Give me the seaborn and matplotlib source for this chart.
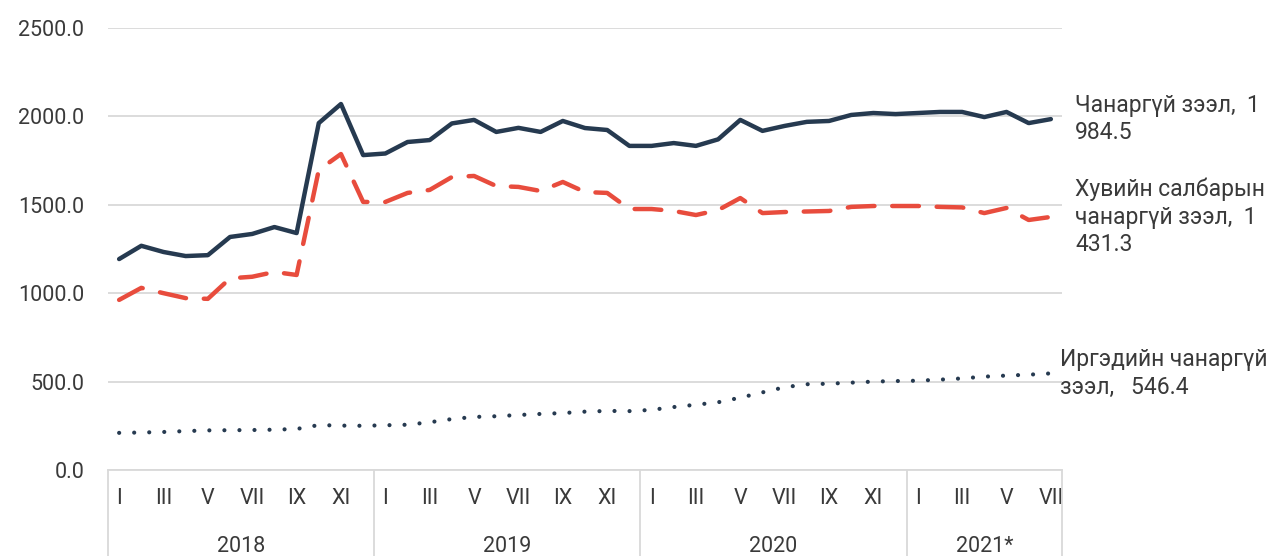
import numpy as np
import pandas as pd
import seaborn as sns
import matplotlib.pyplot as plt
import matplotlib.transforms as mtransforms

# monthly data, 2018-I .. 2021-VII
years = ['2018', '2019', '2020', '2021*']
months_per_year = [12, 12, 12, 7]
roman = ['I', 'II', 'III', 'IV', 'V', 'VI', 'VII', 'VIII', 'IX', 'X', 'XI', 'XII']

total_npl = [1193, 1268, 1233, 1210, 1215, 1318, 1335, 1374, 1340, 1962, 2070, 1781,
             1790, 1855, 1866, 1960, 1980, 1912, 1935, 1912, 1974, 1934, 1923, 1833,
             1833, 1849, 1833, 1870, 1980, 1918, 1946, 1969, 1974, 2008, 2019, 2013,
             2019, 2025, 2025, 1996, 2025, 1962, 1984.5]
private_npl = [962, 1030, 1000, 972, 968, 1084, 1093, 1120, 1103, 1697, 1787, 1516,
               1516, 1567, 1584, 1657, 1663, 1606, 1601, 1578, 1629, 1572, 1567, 1476,
               1476, 1465, 1442, 1470, 1538, 1453, 1459, 1462, 1465, 1488, 1493, 1493,
               1493, 1488, 1485, 1453, 1482, 1414, 1431.3]
household_npl = [210, 212, 215, 220, 224, 225, 226, 228, 232, 254, 251, 250,
                 253, 256, 270, 288, 300, 304, 311, 317, 322, 330, 334, 333,
                 340, 356, 369, 383, 409, 439, 468, 485, 488, 494, 500, 503,
                 505, 511, 518, 528, 534, 539, 546.4]

series_names = ['Чанаргүй зээл', 'Хувийн салбарын чанаргүй зээл', 'Иргэдийн чанаргүй зээл']
end_labels = ['Чанаргүй зээл,  1\n984.5',
              'Хувийн салбарын\nчанаргүй зээл,  1\n431.3',
              'Иргэдийн чанаргүй\nзээл,   546.4']

month_labels = []
for n in months_per_year:
    month_labels += [roman[m] if m % 2 == 0 else '' for m in range(n)]

df = pd.DataFrame({'idx': np.arange(len(total_npl)),
                   series_names[0]: total_npl,
                   series_names[1]: private_npl,
                   series_names[2]: household_npl})
long = df.melt(id_vars='idx', var_name='series', value_name='value')

sns.set_theme(style='white')
plt.rcParams['font.family'] = ['Roboto', 'DejaVu Sans']

dark = '#263a50'
red = '#e84c3d'
txt = '#3a3a3a'
fs = 15.5

fig = plt.figure(figsize=(12.77, 5.56), dpi=100)
ax = fig.add_axes([0.0846, 0.1547, 0.747, 0.795])

sns.lineplot(data=long, x='idx', y='value', hue='series', style='series',
             palette={series_names[0]: dark, series_names[1]: red, series_names[2]: dark},
             dashes={series_names[0]: '', series_names[1]: (6, 4), series_names[2]: (0.01, 3.6)},
             linewidth=3.2, legend=False, ax=ax)
for ln in ax.get_lines():
    ln.set_solid_capstyle('round')
    ln.set_dash_capstyle('round')
    ln.set_solid_joinstyle('round')
ax.get_lines()[2].set_linewidth(3.0)

n = len(total_npl)
ax.set_xlim(-0.5, n - 0.5)
ax.set_ylim(0, 2500)
ax.set_yticks(np.arange(0, 2501, 500))
ax.set_yticklabels([f'{v:.1f}' for v in np.arange(0, 2501, 500)])
ax.yaxis.grid(True, color='#d9d9d9', linewidth=1.3)
ax.set_xlabel('')
ax.set_ylabel('')
ax.set_xticks(np.arange(n))
ax.set_xticklabels(month_labels)
ax.tick_params(axis='x', length=0, pad=13, labelsize=fs, colors=txt)
ax.tick_params(axis='y', length=0, pad=17, labelsize=fs, colors=txt)
for s in ['top', 'right', 'left']:
    ax.spines[s].set_visible(False)
ax.spines['bottom'].set_color('#d9d9d9')
ax.spines['bottom'].set_linewidth(1.3)

# year group separators and labels
trans = mtransforms.blended_transform_factory(ax.transData, ax.transAxes)
bounds = np.concatenate([[0], np.cumsum(months_per_year)]) - 0.5
for b in bounds:
    ax.plot([b, b], [0, -0.2], transform=trans, color='#d9d9d9', lw=1.3, clip_on=False)
for i, yr in enumerate(years):
    ax.text((bounds[i] + bounds[i + 1]) / 2, -0.172, yr, transform=trans,
            ha='center', va='center', fontsize=fs, color=txt)

# end-of-line labels
last = [total_npl[-1], private_npl[-1], household_npl[-1]]
xs = [n + 0.1, n + 0.1, n - 0.6]
for lab, xv, yv in zip(end_labels, xs, last):
    ax.text(xv, yv, lab, ha='left', va='center', fontsize=16.5, color=txt,
            linespacing=1.25, clip_on=False)

fig.savefig('out.png', dpi=100)
